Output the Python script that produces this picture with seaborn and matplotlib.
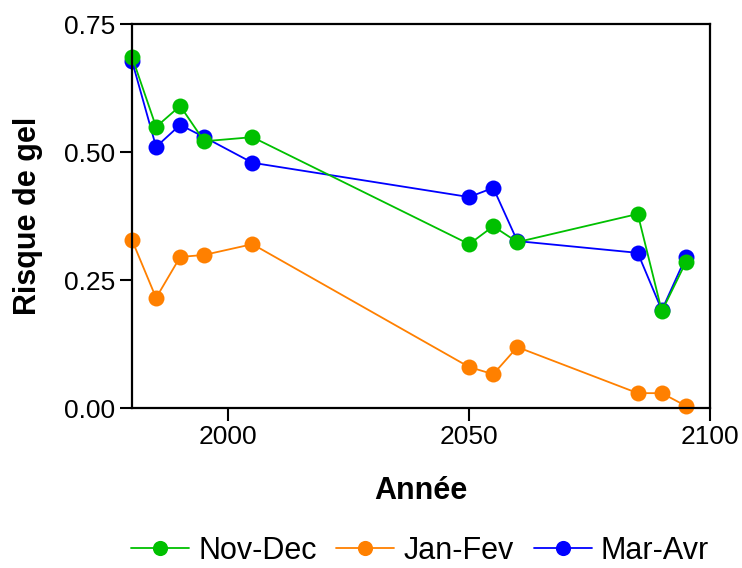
import matplotlib
matplotlib.use("Agg")
import matplotlib.pyplot as plt
import seaborn as sns
import pandas as pd

years = [1980, 1985, 1990, 1995, 2005, 2050, 2055, 2060, 2085, 2090, 2095]
nov_dec = [0.686, 0.549, 0.590, 0.521, 0.529, 0.320, 0.355, 0.324, 0.379, 0.189, 0.285]
jan_fev = [0.328, 0.215, 0.295, 0.299, 0.320, 0.080, 0.066, 0.119, 0.029, 0.029, 0.004]
mar_avr = [0.678, 0.510, 0.553, 0.529, 0.479, 0.412, 0.430, 0.326, 0.303, 0.191, 0.295]
series_names = ["Nov-Dec", "Jan-Fev", "Mar-Avr"]
colors = {"Nov-Dec": "#00C000", "Jan-Fev": "#FF8000", "Mar-Avr": "#0000FF"}
x_ticks = [2000, 2050, 2100]
y_ticks = [0.0, 0.25, 0.50, 0.75]
y_labels = ["0.00", "0.25", "0.50", "0.75"]

sns.set_style("ticks")
plt.rcParams["font.family"] = ["Liberation Sans", "DejaVu Sans"]
plt.rcParams["text.color"] = "black"
plt.rcParams["axes.labelcolor"] = "black"

data = {"Nov-Dec": nov_dec, "Jan-Fev": jan_fev, "Mar-Avr": mar_avr}

fig = plt.figure(figsize=(7.42, 5.68), dpi=100)
ax = fig.add_axes([132/742, 1 - 408/568, (710-132)/742, (408-24)/568])

for name in ["Jan-Fev", "Mar-Avr", "Nov-Dec"]:
    df = pd.DataFrame({"year": years, "value": data[name]})
    sns.lineplot(data=df, x="year", y="value", ax=ax, color=colors[name],
                 marker="o", markersize=11.5, markeredgewidth=0,
                 linewidth=1.3, label=name, clip_on=False)

ax.set_xlim(1980, 2100)
ax.set_ylim(0, 0.75)
ax.set_xticks(x_ticks)
ax.set_yticks(y_ticks)
ax.set_yticklabels(y_labels)
ax.tick_params(axis="both", direction="out", length=9, width=1.5, labelsize=19,
               colors="black", labelcolor="black", pad=3)
for s in ax.spines.values():
    s.set_linewidth(1.6)
    s.set_color("black")
    s.set_visible(True)
ax.set_xlabel("Année", fontsize=22, fontweight="bold", labelpad=20, color="black")
ax.set_ylabel("Risque de gel", fontsize=22, fontweight="bold", labelpad=15, color="black")

h, l = ax.get_legend_handles_labels()
order = [l.index(n) for n in series_names]
leg = ax.legend([h[i] for i in order], [l[i] for i in order], loc="center",
                bbox_to_anchor=(420/742, 1 - 551/568), bbox_transform=fig.transFigure,
                ncol=3, frameon=False, fontsize=22, handlelength=1.9, handletextpad=0.3,
                columnspacing=0.65, markerscale=0.95, borderpad=0, borderaxespad=0)
for t in leg.get_texts():
    t.set_color("black")

fig.savefig("out.png", dpi=100)
